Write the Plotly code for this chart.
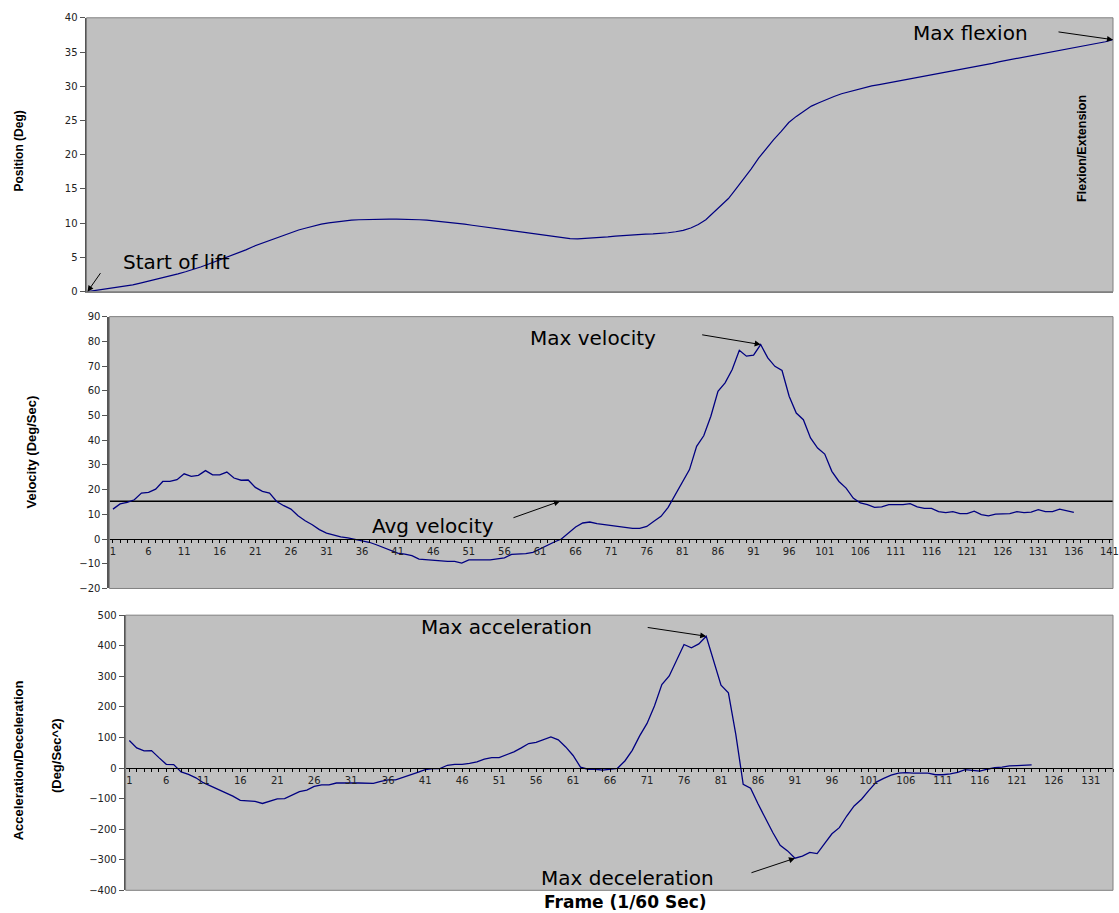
import plotly.graph_objects as go

W, H = 1119, 913

# ---------------- data ----------------
position = [
    0.0, 0.15, 0.3, 0.45, 0.65, 0.85, 1.0, 1.25, 1.5, 1.75,
    2.0, 2.3, 2.6, 2.9, 3.2, 3.6, 4.0, 4.4, 4.8, 5.2,
    5.7, 6.1, 6.6, 7.0, 7.5, 7.9, 8.3, 8.7, 9.0, 9.3,
    9.6, 9.85, 10.05, 10.2, 10.35, 10.45, 10.5, 10.55, 10.55, 10.6,
    10.6, 10.6, 10.6, 10.55, 10.5, 10.45, 10.35, 10.25, 10.1, 10.0,
    9.85, 9.7, 9.55, 9.4, 9.25, 9.1, 8.9, 8.75, 8.6, 8.45,
    8.3, 8.15, 8.0, 7.85, 7.75, 7.7, 7.75, 7.8, 7.9, 8.0,
    8.1, 8.2, 8.25, 8.3, 8.4, 8.45, 8.5, 8.6, 8.75, 8.95,
    9.3, 9.8, 10.5, 11.5, 12.6, 13.6, 15.0, 16.4, 17.9, 19.5,
    20.9, 22.2, 23.4, 24.7, 25.6, 26.4, 27.1, 27.6, 28.1, 28.5,
    28.9, 29.2, 29.5, 29.8, 30.05, 30.25, 30.45, 30.65, 30.85, 31.05,
    31.25, 31.45, 31.7, 31.9, 32.1, 32.3, 32.5, 32.75, 32.95, 33.15,
    33.35, 33.6, 33.8, 34.0, 34.2, 34.4, 34.65, 34.85, 35.05, 35.25,
    35.45, 35.7, 35.9, 36.1, 36.3, 36.5, 36.8,
]
position_frames = list(range(1, len(position) + 1))

velocity = [
    12.1, 14.2, 14.8, 15.9, 18.6, 18.9, 20.2, 23.3, 23.3, 24.0,
    26.4, 25.4, 25.8, 27.7, 26.0, 26.0, 27.1, 24.7, 23.8, 23.9,
    20.9, 19.3, 18.6, 15.2, 13.5, 12.1, 9.4, 7.4, 5.8, 3.8,
    2.4, 1.5, 0.9, 0.5, 0.0, -0.7, -1.3, -2.3, -3.4, -4.3,
    -5.7, -6.1, -6.7, -8.1, -8.4, -8.4, -9.0, -9.0, -9.0, -9.7,
    -8.4, -8.4, -8.4, -8.4, -8.0, -7.6, -6.2, -6.1, -5.9, -5.4,
    -3.9, -2.7, -1.2, 0.0, 2.4, 4.9, 6.5, 6.9, 6.2, 5.8,
    5.7, 5.1, 4.6, 4.3, 4.3, 5.1, 7.2, 9.2, 12.8, 17.9,
    22.7, 28.1, 37.5, 41.8, 49.7, 59.8, 63.2, 68.6, 76.4, 74.0,
    74.4, 78.7, 73.3, 69.9, 68.2, 57.8, 51.0, 48.3, 40.9, 36.8,
    34.4, 27.4, 23.3, 20.6, 16.6, 14.6, 13.9, 12.8, 13.0, 13.9,
    13.9, 13.9, 14.3, 13.0, 12.4, 12.4, 11.1, 10.7, 11.1, 10.3,
    10.3, 11.3, 9.9, 9.4, 10.1, 10.1, 10.3, 11.1, 10.7, 10.9,
    11.9, 11.1, 11.1, 12.1, 11.6, 10.8,
]
velocity_frames = list(range(1, len(velocity) + 1))
avg_velocity = 15.3

acceleration = [
    90, 66, 56, 57, 34, 12, 11, -13, -21, -32,
    -48, -59, -70, -83, -92, -106, -107, -109, -116, -108,
    -101, -100, -88, -77, -72, -60, -55, -55, -49, -48,
    -49, -49, -49, -50, -44, -39, -39, -31, -24, -14,
    -5, -2, -2, 9, 12, 12, 15, 20, 29, 34,
    34, 43, 53, 66, 80, 84, 92, 102, 92, 69,
    41, 3, -4, -4, -7, -5, -1, 23, 58, 105,
    146, 203, 273, 301, 350, 404, 393, 406, 431, 350,
    271, 246, 110, -53, -66, -117, -165, -211, -253, -271,
    -295, -288, -276, -280, -247, -215, -195, -157, -124, -102,
    -73, -46, -34, -23, -17, -15, -17, -17, -17, -22,
    -22, -19, -14, -5, -8, -10, -4, 1, 3, 7,
    8, 9, 10,
]
acceleration_frames = list(range(1, len(acceleration) + 1))

# ---------------- layout helpers ----------------
# vertical calibration: the captured page is slightly taller than the figure
V_SCALE, V_OFF = 0.9885, 4.2

def px(x):
    return x / W

def py(y):
    return 1 - ((y - V_OFF) / V_SCALE) / H

LINE = "#000080"
PLOT_BG = "#c0c0c0"
TICKFONT = dict(family="DejaVu Sans", size=10, color="#222222")
LABELFONT = dict(family="DejaVu Sans", size=20, color="#000000")

# pixel boxes of plot areas in the reference: (left, top, right, bottom)
box_top = (87, 17, 1119, 291)
box_mid = (110, 316, 1119, 588)
box_bot = (126.3, 614.7, 1119, 890)

fig = go.Figure()

fig.add_trace(go.Scatter(x=position_frames, y=position, mode="lines",
                         line=dict(color=LINE, width=1.2), xaxis="x", yaxis="y",
                         showlegend=False))
fig.add_trace(go.Scatter(x=[0.5, 141.5], y=[avg_velocity, avg_velocity], mode="lines",
                         line=dict(color="#000000", width=1.3), xaxis="x2", yaxis="y2",
                         showlegend=False))
fig.add_trace(go.Scatter(x=velocity_frames, y=velocity, mode="lines",
                         line=dict(color=LINE, width=1.3), xaxis="x2", yaxis="y2",
                         showlegend=False))
fig.add_trace(go.Scatter(x=acceleration_frames, y=acceleration, mode="lines",
                         line=dict(color=LINE, width=1.3), xaxis="x3", yaxis="y3",
                         showlegend=False))

yaxis_common = dict(showgrid=False, zeroline=False, showline=True, linecolor="#555555",
                    linewidth=2, ticks="outside", ticklen=5, tickcolor="#555555",
                    tickfont=TICKFONT, fixedrange=True)

xaxis_cat = dict(showgrid=False, zeroline=False, showline=True, linecolor="#000000",
                 linewidth=1, ticks="outside", ticklen=3, tickcolor="#000000",
                 tickmode="linear", tick0=1, dtick=5, tickfont=TICKFONT,
                 ticklabeloverflow="allow",
                 minor=dict(ticks="outside", ticklen=3, tickcolor="#000000", dtick=1, tick0=1),
                 anchor="free")

fig.update_layout(
    width=W, height=H, autosize=False,
    margin=dict(l=0, r=0, t=0, b=0),
    paper_bgcolor="#ffffff", plot_bgcolor=PLOT_BG,
    xaxis=dict(domain=[px(box_top[0]), px(box_top[2])], range=[0.87, 137],
               showgrid=False, zeroline=False, showticklabels=False, ticks="",
               showline=True, linecolor="#808080", linewidth=1, anchor="y"),
    yaxis=dict(domain=[py(box_top[3]), py(box_top[1])], range=[0, 40], dtick=5,
               anchor="x", **yaxis_common),
    xaxis2=dict(domain=[px(box_mid[0]), px(box_mid[2])], range=[0.5, 141.5],
                position=py(538.7), **xaxis_cat),
    yaxis2=dict(domain=[py(box_mid[3]), py(box_mid[1])], range=[-20, 90], dtick=10,
                anchor="x2", **yaxis_common),
    xaxis3=dict(domain=[px(box_bot[0]), px(box_bot[2])], range=[0.5, 134.0],
                position=py(767.7), **xaxis_cat),
    yaxis3=dict(domain=[py(box_bot[3]), py(box_bot[1])], range=[-400, 500], dtick=100,
                anchor="x3", **yaxis_common),
)

# plot-area borders
for (l, t, r, b) in (box_top, box_mid, box_bot):
    fig.add_shape(type="rect", xref="paper", yref="paper",
                  x0=px(l), x1=px(r), y0=py(b), y1=py(t),
                  line=dict(color="#808080", width=1), fillcolor="rgba(0,0,0,0)",
                  layer="above")

# text labels
def label(text, cx, cy, font=LABELFONT, angle=0):
    fig.add_annotation(text=text, x=px(cx), y=py(cy), xref="paper", yref="paper",
                       xanchor="center", yanchor="middle", showarrow=False,
                       font=font, textangle=angle)

label("Max flexion", 976, 32)
label("Start of lift", 177, 261)
label("Max velocity", 596, 337)
label("Avg velocity", 435, 525)
label("Max acceleration", 509, 627)
label("Max deceleration", 631, 878)

def axt(size, bold=True):
    return dict(family="Liberation Sans", size=size, color="#000000",
                weight="bold" if bold else "normal")

label("Position (Deg)", 19, 150, font=axt(12), angle=-90)
label("Velocity (Deg/Sec)", 32, 451, font=axt(13), angle=-90)
label("Acceleration/Deceleration", 18, 760, font=axt(13), angle=-90)
label("(Deg/Sec^2)", 57, 755, font=axt(13), angle=-90)
label("Flexion/Extension", 1088, 148, font=axt(12.5), angle=-90)
label("Frame (1/60 Sec)", 629, 902,
      font=dict(family="DejaVu Sans", size=17, color="#000000", weight="bold"))

# arrows (head at data point, tail offset in pixels)
def arrow(xref, yref, x, y, ax, ay):
    fig.add_annotation(x=x, y=y, xref=xref, yref=yref, ax=ax, ay=ay,
                       text="", showarrow=True, arrowhead=2, arrowsize=1.2,
                       arrowwidth=1, arrowcolor="#000000")

i_vmax = velocity.index(max(velocity))
i_amax = acceleration.index(max(acceleration))
i_amin = acceleration.index(min(acceleration))

arrow("x", "y", position_frames[-1], position[-1], -56, -8)
arrow("x", "y", position_frames[0], position[0], 14, -20)
arrow("x2", "y2", velocity_frames[i_vmax], velocity[i_vmax], -60, -10)
arrow("x2", "y2", 63.8, avg_velocity, -48, 17)
arrow("x3", "y3", acceleration_frames[i_amax], acceleration[i_amax], -60, -9)
arrow("x3", "y3", acceleration_frames[i_amin], acceleration[i_amin], -45, 15)

fig.write_html(
    "out.html",
    config={"displayModeBar": False},
    post_script="document.body.style.margin='0';document.body.style.padding='0';"
                "document.body.style.overflow='hidden';",
)
